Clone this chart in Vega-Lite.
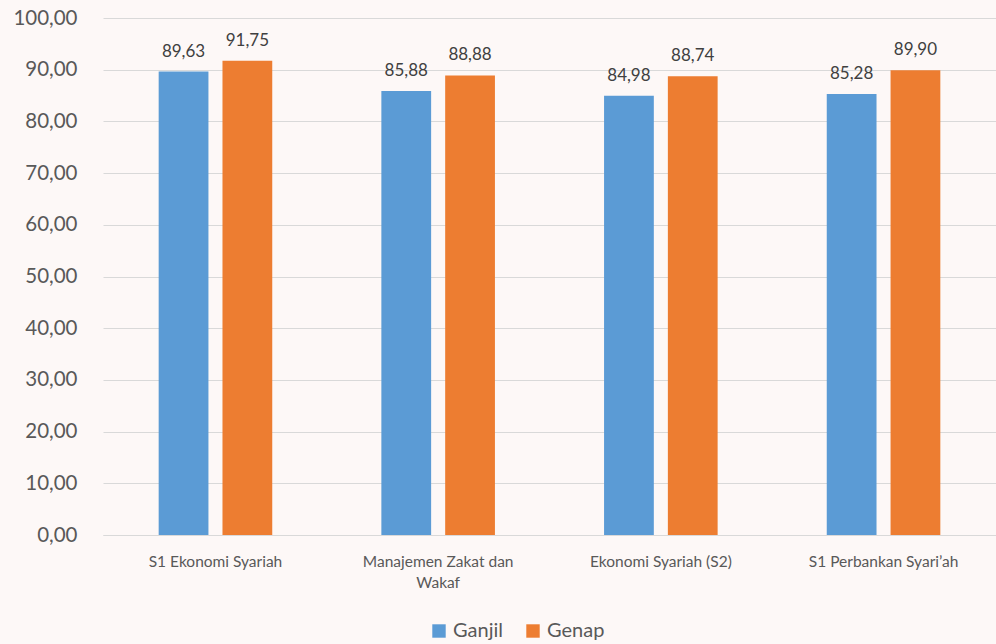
{
  "$schema": "https://vega.github.io/schema/vega-lite/v6.json",
  "width": 893,
  "height": 517,
  "autosize": {"type": "none"},
  "padding": {"left": 103, "top": 18, "right": 0, "bottom": 109},
  "background": "#fdf8f7",
  "config": {
    "locale": {"number": {"decimal": ",", "thousands": ".", "grouping": [3], "currency": ["", ""]}},
    "font": "Lato",
    "view": {"stroke": null}
  },
  "data": {
    "values": [
      {"prodi": "S1  Ekonomi Syariah", "semester": "Ganjil", "nilai": 89.63},
      {"prodi": "S1  Ekonomi Syariah", "semester": "Genap", "nilai": 91.75},
      {"prodi": "Manajemen Zakat dan Wakaf", "semester": "Ganjil", "nilai": 85.88},
      {"prodi": "Manajemen Zakat dan Wakaf", "semester": "Genap", "nilai": 88.88},
      {"prodi": "Ekonomi Syariah (S2)", "semester": "Ganjil", "nilai": 84.98},
      {"prodi": "Ekonomi Syariah (S2)", "semester": "Genap", "nilai": 88.74},
      {"prodi": "S1 Perbankan Syari’ah", "semester": "Ganjil", "nilai": 85.28},
      {"prodi": "S1 Perbankan Syari’ah", "semester": "Genap", "nilai": 89.9}
    ]
  },
  "encoding": {
    "x": {
      "field": "prodi",
      "type": "nominal",
      "sort": null,
      "title": null,
      "scale": {"paddingInner": 0.49, "paddingOuter": 0.25},
      "axis": {
        "labelAngle": 0,
        "labelFontSize": 15.5,
        "labelColor": "#595959",
        "labelPadding": 19,
        "ticks": false,
        "domainColor": "#d9d9d9",
        "domainWidth": 1,
        "labelLimit": 300,
        "labelLineHeight": 21,
        "labelExpr": "datum.value == 'Manajemen Zakat dan Wakaf' ? ['Manajemen Zakat dan', 'Wakaf'] : datum.value"
      }
    },
    "xOffset": {
      "field": "semester",
      "type": "nominal",
      "scale": {"paddingInner": 0.22, "paddingOuter": 0}
    },
    "y": {
      "field": "nilai",
      "type": "quantitative",
      "title": null,
      "scale": {"domain": [0, 100], "nice": false},
      "axis": {
        "values": [0, 10, 20, 30, 40, 50, 60, 70, 80, 90, 100],
        "format": ".2f",
        "labelOverlap": false,
        "labelFontSize": 20.5,
        "labelColor": "#595959",
        "labelPadding": 26,
        "ticks": false,
        "domain": false,
        "gridColor": "#d9d9d9",
        "gridWidth": 1
      }
    }
  },
  "layer": [
    {
      "mark": {"type": "bar"},
      "encoding": {
        "color": {
          "field": "semester",
          "type": "nominal",
          "scale": {"domain": ["Ganjil", "Genap"], "range": ["#5b9bd5", "#ed7d31"]},
          "legend": {
            "title": null,
            "orient": "none",
            "direction": "horizontal",
            "legendX": 326,
            "legendY": 603,
            "symbolType": "square",
            "symbolSize": 180,
            "symbolStrokeWidth": 0,
            "labelFontSize": 20,
            "labelColor": "#595959",
            "labelOffset": 4,
            "columnPadding": 20
          }
        }
      }
    },
    {
      "mark": {"type": "text", "baseline": "alphabetic", "dy": -15, "fontSize": 17, "color": "#404040"},
      "encoding": {
        "text": {"field": "nilai", "type": "quantitative", "format": ".2f"}
      }
    }
  ]
}
